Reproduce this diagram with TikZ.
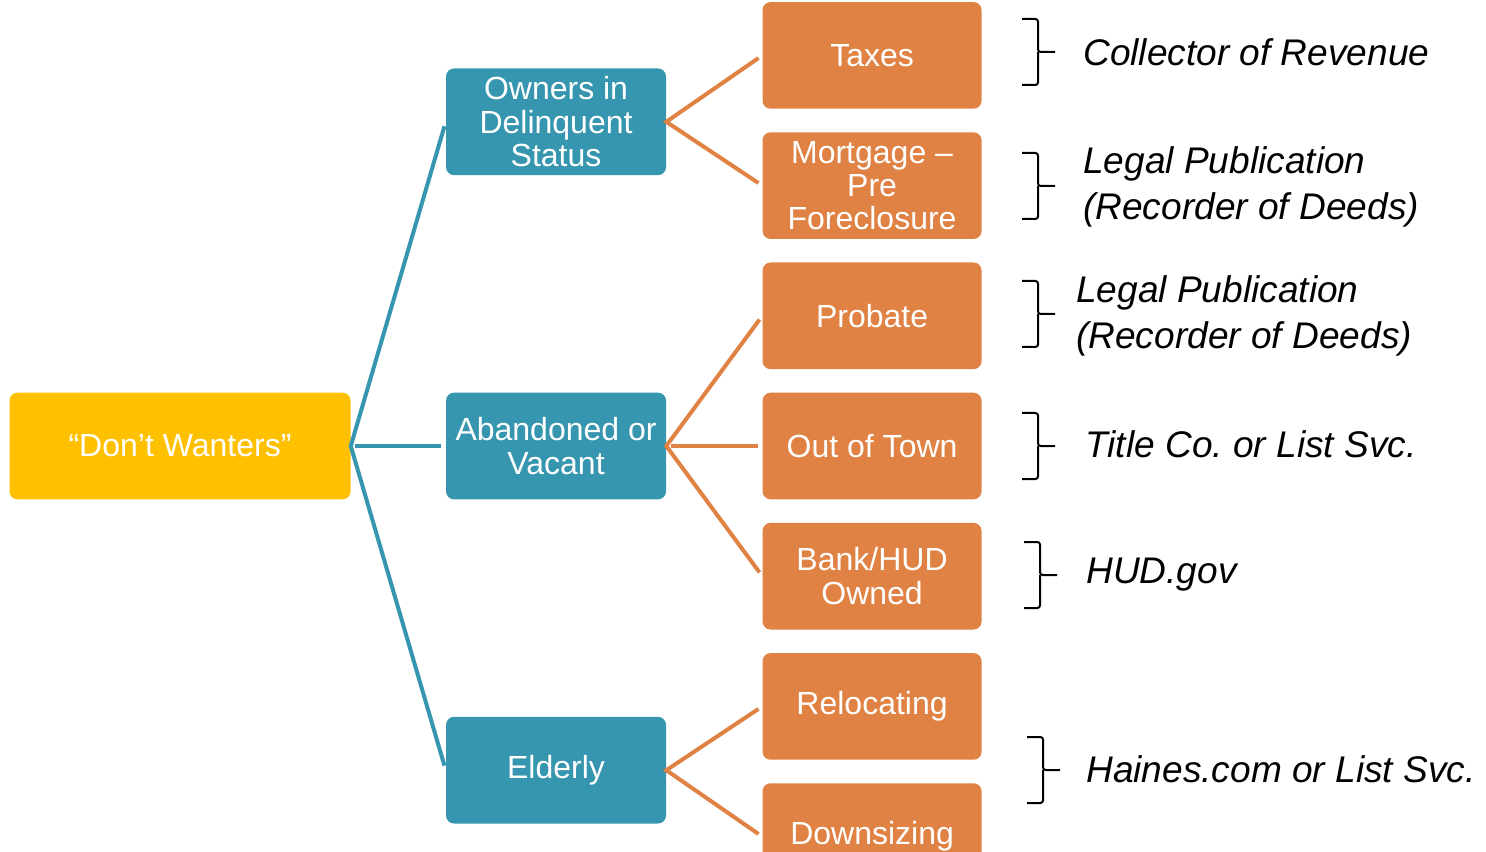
\documentclass[tikz,border=0pt]{standalone}
\usepackage{fontspec}
\setmainfont{Liberation Sans}
\usetikzlibrary{positioning}
\definecolor{rootyellow}{RGB}{255,192,0}
\definecolor{groupteal}{RGB}{55,150,175}
\definecolor{caseorange}{RGB}{224,130,68}
\begin{document}
\begin{tikzpicture}[x=0.75pt,y=-0.75pt]

% definitions
\tikzstyle{root} = [rectangle, rounded corners=6pt, minimum width=255.75pt, minimum height=80pt, inner sep=1pt, align=center, fill=rootyellow, text=white, font=\fontsize{24}{25}\selectfont]

\tikzstyle{group} = [rectangle, rounded corners=6pt, minimum width=165pt, minimum height=80pt, inner sep=1pt, align=center, fill=groupteal, text=white, font=\fontsize{24}{25}\selectfont]

\tikzstyle{case} = [rectangle, rounded corners=6pt, minimum width=164.25pt, minimum height=80pt, inner sep=1pt, align=center, fill=caseorange, text=white, font=\fontsize{24}{25}\selectfont]

\tikzstyle{source} = [anchor=west, inner sep=0pt, align=left, font=\itshape\fontsize{27.8}{34.5}\selectfont]

\tikzstyle{tealline} = [draw=groupteal, line width=3pt, shorten <=3.5pt, shorten >=3.5pt]
\tikzstyle{orangeline} = [draw=caseorange, line width=3pt, shorten <=3.5pt, shorten >=3.5pt]
\tikzstyle{bracket} = [draw=black, line width=1.5pt, rounded corners=2pt]

\useasboundingbox (0,0) rectangle (1486,852);
\clip (0,0) rectangle (1486,852);

% the graph
\node (root) [root] at (180,446) {“Don’t Wanters”};

\node (abandoned) [group, right=71.25pt of root] {Abandoned or\\Vacant};
\node (owners) [group, above=162.75pt of abandoned] {Owners in\\Delinquent\\Status};
\node (elderly) [group, below=162.75pt of abandoned] {Elderly};

\node (outoftown) [case, right=72pt of abandoned] {Out of Town};
\node (probate) [case, above=17.25pt of outoftown] {Probate};
\node (mortgage) [case, above=17.25pt of probate] {Mortgage –\\Pre\\Foreclosure};
\node (taxes) [case, above=17.25pt of mortgage] {Taxes};
\node (bankhud) [case, below=17.25pt of outoftown] {Bank/HUD\\Owned};
\node (relocating) [case, below=17.25pt of bankhud] {Relocating};
\node (downsizing) [case, below=17.25pt of relocating] {Downsizing};

\coordinate (rootfork) at (root.east);
\coordinate (ownersfork) at (owners.east);
\coordinate (abandonedfork) at (abandoned.east);
\coordinate (elderlyfork) at (elderly.east);

\draw [tealline] (owners.west) -- (rootfork) -- (elderly.west);
\draw [tealline] (rootfork) -- (abandoned.west);

\draw [orangeline] (taxes.west) -- (ownersfork) -- (mortgage.west);
\draw [orangeline] (probate.west) -- (abandonedfork) -- (bankhud.west);
\draw [orangeline] (abandonedfork) -- (outoftown.west);
\draw [orangeline] (relocating.west) -- (elderlyfork) -- (downsizing.west);

% brackets and sources
\foreach \bx/\by in {1022/52, 1022/186, 1022/314, 1022/446, 1024/575, 1027/770}
{
  \draw [bracket] (\bx,\by-33) -- (\bx+16,\by-33) -- (\bx+16,\by) -- (\bx+33,\by);
  \draw [bracket] (\bx+16,\by) -- (\bx+16,\by+33) -- (\bx,\by+33);
}

\node (revenue) [source] at (1083,52) {Collector of Revenue};
\node (legalmortgage) [source] at (1083,187) {Legal Publication\\(Recorder of Deeds)};
\node (legalprobate) [source] at (1076,316) {Legal Publication\\(Recorder of Deeds)};
\node (titleco) [source] at (1085,444) {Title Co.\ or List Svc.};
\node (hudgov) [source] at (1086,575) {HUD.gov};
\node (haines) [source] at (1086,769) {Haines.com or List Svc.};

\end{tikzpicture}
\end{document}
